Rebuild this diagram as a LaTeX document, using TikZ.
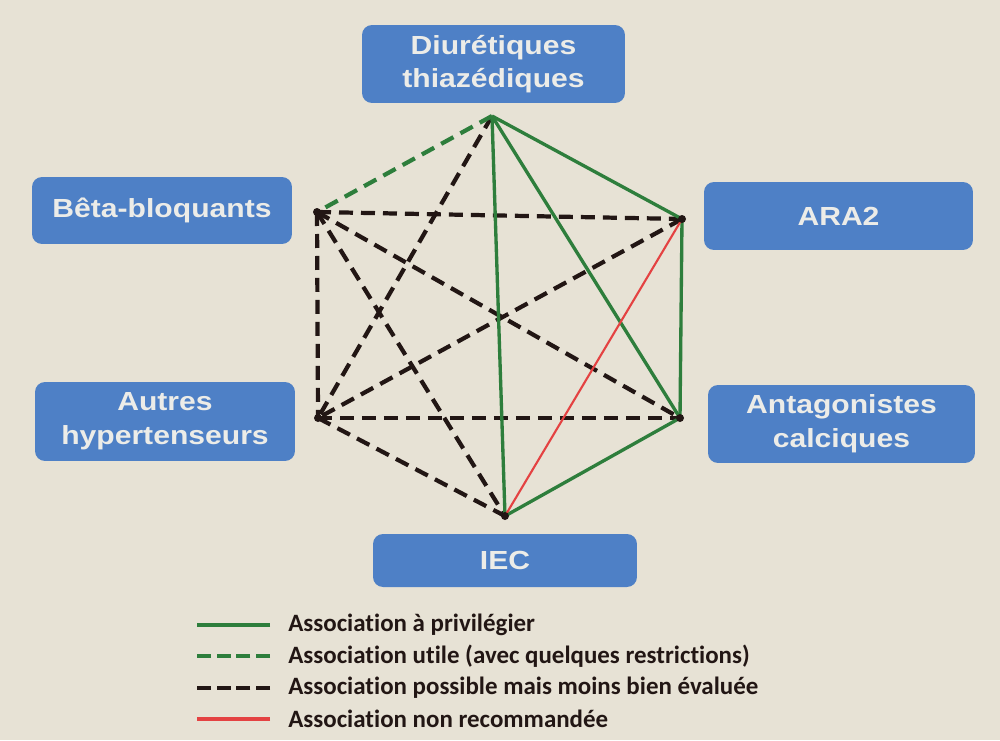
\documentclass[tikz,border=0pt]{standalone}
\usepackage{xcolor}
\usepackage{fontspec}
\setmainfont{Carlito}[Ligatures=NoCommon]
\newfontfamily\boxfont{Liberation Sans}[FakeStretch=1.15]
\usetikzlibrary{positioning}

\definecolor{paper}{RGB}{231,226,213}
\definecolor{boxblue}{RGB}{78,128,198}
\definecolor{boxtext}{RGB}{236,236,232}
\definecolor{assocgreen}{RGB}{46,126,60}
\definecolor{assocred}{RGB}{228,66,66}
\definecolor{ink}{RGB}{34,22,20}

\tikzset{
  classe/.style={fill=boxblue, rounded corners=0.2cm, text=boxtext, align=center, inner sep=0pt,
    font=\boxfont\bfseries\fontsize{14.9}{19.2}\selectfont},
  possible/.style={ink, line width=2.4pt, dash pattern=on 0.28cm off 0.16cm},
  utile/.style={assocgreen, line width=2.4pt, dash pattern=on 0.28cm off 0.16cm},
  privilegier/.style={assocgreen, line width=1.9pt},
  nonrec/.style={assocred, line width=1.2pt},
  legende/.style={anchor=west, inner sep=0pt, text=ink, font=\bfseries\fontsize{14.2}{16}\selectfont}
}

\begin{document}
\begin{tikzpicture}[x=0.02cm, y=-0.02cm]
        \fill[paper] (0,0) rectangle (1000,740);
        \useasboundingbox (0,0) rectangle (1000,740);

        % classes
        \node[classe, minimum width=5.26cm, minimum height=1.56cm] (diur) at (493.5,64) {Diurétiques\\thiazédiques};
        \node[classe, minimum width=5.2cm, minimum height=1.34cm] (beta) at (162,210.5) {Bêta-bloquants};
        \node[classe, minimum width=5.38cm, minimum height=1.36cm] (ara) at (838.5,216) {ARA2};
        \node[classe, minimum width=5.2cm, minimum height=1.58cm] (autres) at (165,421.5) {Autres\\hypertenseurs};
        \node[classe, minimum width=5.34cm, minimum height=1.56cm] (anta) at (841.5,424) {Antagonistes\\calciques};
        \node[classe, minimum width=5.28cm, minimum height=1.06cm] (iec) at (505,560.5) {IEC};

        % sommets
        \coordinate (d) at (492,116);
        \coordinate (b) at (317,212);
        \coordinate (a) at (682,219);
        \coordinate (h) at (318,418);
        \coordinate (c) at (680,418);
        \coordinate (i) at (505,516);

        \draw[possible] (d) -- (h);
        \draw[possible] (b) -- (a);
        \draw[possible] (b) -- (h);
        \draw[possible] (b) -- (c);
        \draw[possible] (b) -- (i);
        \draw[possible] (a) -- (h);
        \draw[possible] (h) -- (c);
        \draw[possible] (h) -- (i);

        \draw[utile] (d) -- (b);

        \draw[privilegier] (d) -- (i);
        \draw[privilegier] (d) -- (c);
        \draw[privilegier] (d) -- (a);
        \draw[privilegier] (a) -- (c);
        \draw[privilegier] (c) -- (i);

        \draw[nonrec] (a) -- (i);

        \foreach \s in {b,a,h,c,i}
            \fill[ink] (\s) circle (4);

        % legende
        \node[legende] (lg1) at (288,625) {Association à privilégier};
        \node[legende] (lg2) at (288,656) {Association utile (avec quelques restrictions)};
        \node[legende] (lg3) at (288,688) {Association possible mais moins bien évaluée};
        \node[legende] (lg4) at (288,719) {Association non recommandée};

        \draw[privilegier, line width=2.2pt] (lg1.west) ++(-18,0) -- ++(-73,0);
        \draw[utile, dash pattern=on 0.28cm off 0.113cm] (lg2.west) ++(-18,0) -- ++(-73,0);
        \draw[possible, dash pattern=on 0.28cm off 0.113cm] (lg3.west) ++(-18,0) -- ++(-73,0);
        \draw[nonrec, line width=2.2pt] (lg4.west) ++(-18,0) -- ++(-73,0);
    \end{tikzpicture}
\end{document}
